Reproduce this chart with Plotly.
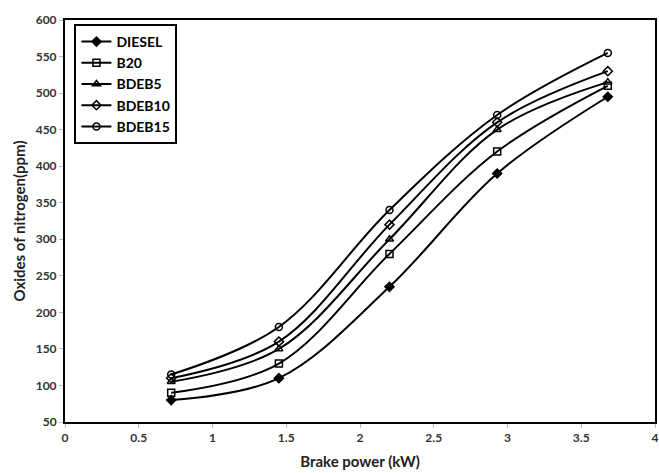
import plotly.graph_objects as go

brake_power = [0.72, 1.45, 2.2, 2.93, 3.68]
diesel = [80, 110, 235, 390, 495]
b20 = [90, 130, 280, 420, 510]
bdeb5 = [105, 150, 300, 450, 515]
bdeb10 = [110, 160, 320, 460, 530]
bdeb15 = [115, 180, 340, 470, 555]

series = [
    ("DIESEL", diesel, "diamond", 7),
    ("B20", b20, "square-open", 7),
    ("BDEB5", bdeb5, "triangle-up-open", 7),
    ("BDEB10", bdeb10, "diamond-open", 7),
    ("BDEB15", bdeb15, "circle-open", 7),
]

fig = go.Figure()
for name, vals, sym, sz in series:
    fig.add_trace(go.Scatter(
        x=brake_power, y=vals, name=name, mode="lines+markers",
        line=dict(color="black", width=2, shape="spline", smoothing=1.0),
        marker=dict(symbol=sym, size=sz, color="black",
                    line=dict(color="black", width=1.5)),
    ))

font = "Lato"
fig.update_layout(
    width=659, height=473,
    margin=dict(l=65, r=4, t=20, b=51, autoexpand=False),
    paper_bgcolor="white", plot_bgcolor="white",
    showlegend=True,
    legend=dict(x=0.016, y=0.99, xanchor="left", yanchor="top",
                bordercolor="black", borderwidth=2, bgcolor="white",
                font=dict(family=font, size=14, color="black", weight="bold"),
                tracegroupgap=0, itemwidth=30),
    xaxis=dict(range=[0, 4], dtick=0.5, showgrid=False, zeroline=False,
               showline=True, linecolor="black", linewidth=2, mirror=True,
               ticks="outside", ticklen=4, tickcolor="#bbbbbb", automargin=False,
               tickfont=dict(family=font, size=12, color="#333333", weight="bold"),
               title=dict(text="<b>Brake power (kW)</b>", standoff=12,
                          font=dict(family=font, size=15, color="#222222"))),
    yaxis=dict(range=[50, 600], dtick=50, showgrid=False, zeroline=False,
               showline=True, linecolor="black", linewidth=2, mirror=True,
               ticks="outside", ticklen=4, tickcolor="#bbbbbb", automargin=False,
               tickfont=dict(family=font, size=12, color="#333333", weight="bold"),
               title=dict(text="<b>Oxides of nitrogen(ppm)</b>", standoff=6,
                          font=dict(family=font, size=15, color="#222222"))),
)
fig.write_html("out.html", config={"displayModeBar": False},
               post_script="document.body.style.margin='0';")
